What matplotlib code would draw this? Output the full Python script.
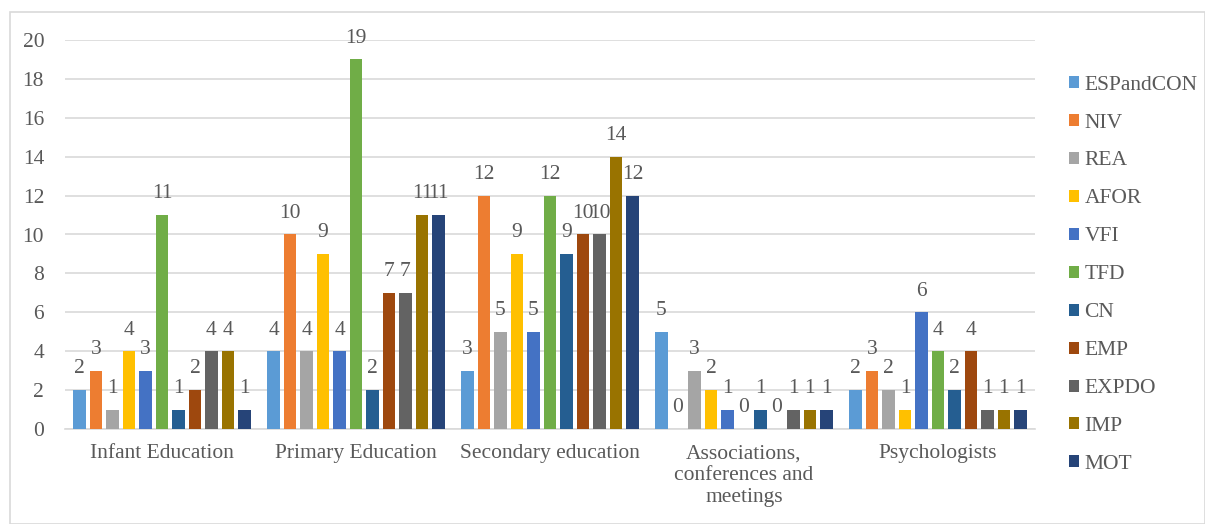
import matplotlib
matplotlib.use("Agg")
import matplotlib.pyplot as plt
from matplotlib.patches import Rectangle
import numpy as np

categories = ["Infant Education", "Primary Education", "Secondary education",
              "Associations,\nconferences and\nmeetings", "Psychologists"]
series = ["ESPandCON", "NIV", "REA", "AFOR", "VFI", "TFD", "CN", "EMP", "EXPDO", "IMP", "MOT"]
values = {
    "ESPandCON": [2, 4, 3, 5, 2],
    "NIV":       [3, 10, 12, 0, 3],
    "REA":       [1, 4, 5, 3, 2],
    "AFOR":      [4, 9, 9, 2, 1],
    "VFI":       [3, 4, 5, 1, 6],
    "TFD":       [11, 19, 12, 0, 4],
    "CN":        [1, 2, 9, 1, 2],
    "EMP":       [2, 7, 10, 0, 4],
    "EXPDO":     [4, 7, 10, 1, 1],
    "IMP":       [4, 11, 14, 1, 1],
    "MOT":       [1, 11, 12, 1, 1],
}
colors = ["#5B9BD5", "#ED7D31", "#A5A5A5", "#FFC000", "#4472C4", "#70AD47",
          "#255E91", "#9E480E", "#636363", "#997300", "#264478"]

plt.rcParams["font.family"] = ["Liberation Serif", "DejaVu Serif"]
text_color = "#595959"
fs = 15.5

fig = plt.figure(figsize=(12.05, 5.24), dpi=100)
fig.patches.append(Rectangle((10 / 1205, 0), 1 - 10 / 1205, 1 - 12 / 524,
                             transform=fig.transFigure, fill=False,
                             edgecolor="#D9D9D9", linewidth=1.2))

ax = fig.add_axes([65 / 1205, 95 / 524, 970 / 1205, 389 / 524])
n = len(series)
x = np.arange(len(categories))
slot = 0.935 / n
bar_w = 0.065
for i, (name, col) in enumerate(zip(series, colors)):
    pos = x - 0.935 / 2 + slot * (i + 0.5)
    vals = values[name]
    ax.bar(pos, vals, width=bar_w, color=col, label=name, zorder=3)
    for px, v in zip(pos, vals):
        ax.text(px, v + 0.6, str(v), ha="center", va="bottom",
                fontsize=fs, color=text_color, zorder=4)

ax.set_xlim(-0.5, len(categories) - 0.5)
ax.set_ylim(0, 20)
ax.set_yticks(range(0, 21, 2))
ax.set_xticks(x)
ax.set_xticklabels(categories, fontsize=fs, color=text_color, linespacing=1.22)
ax.tick_params(axis="y", length=0, labelsize=fs, labelcolor=text_color, pad=15)
ax.tick_params(axis="x", length=0, pad=11)
ax.grid(axis="y", color="#D9D9D9", linewidth=1.2, zorder=0)
for side in ["top", "right", "left"]:
    ax.spines[side].set_visible(False)
ax.spines["bottom"].set_color("#D9D9D9")
ax.spines["bottom"].set_linewidth(1.2)

leg = fig.legend(loc="upper left", bbox_to_anchor=(1060 / 1205, 1 - 67 / 524),
                 frameon=False, fontsize=fs, handlelength=0.48, handleheight=0.48,
                 handletextpad=0.25, labelspacing=0.88, borderaxespad=0)
for t in leg.get_texts():
    t.set_color(text_color)

fig.savefig("out.png", dpi=100)
